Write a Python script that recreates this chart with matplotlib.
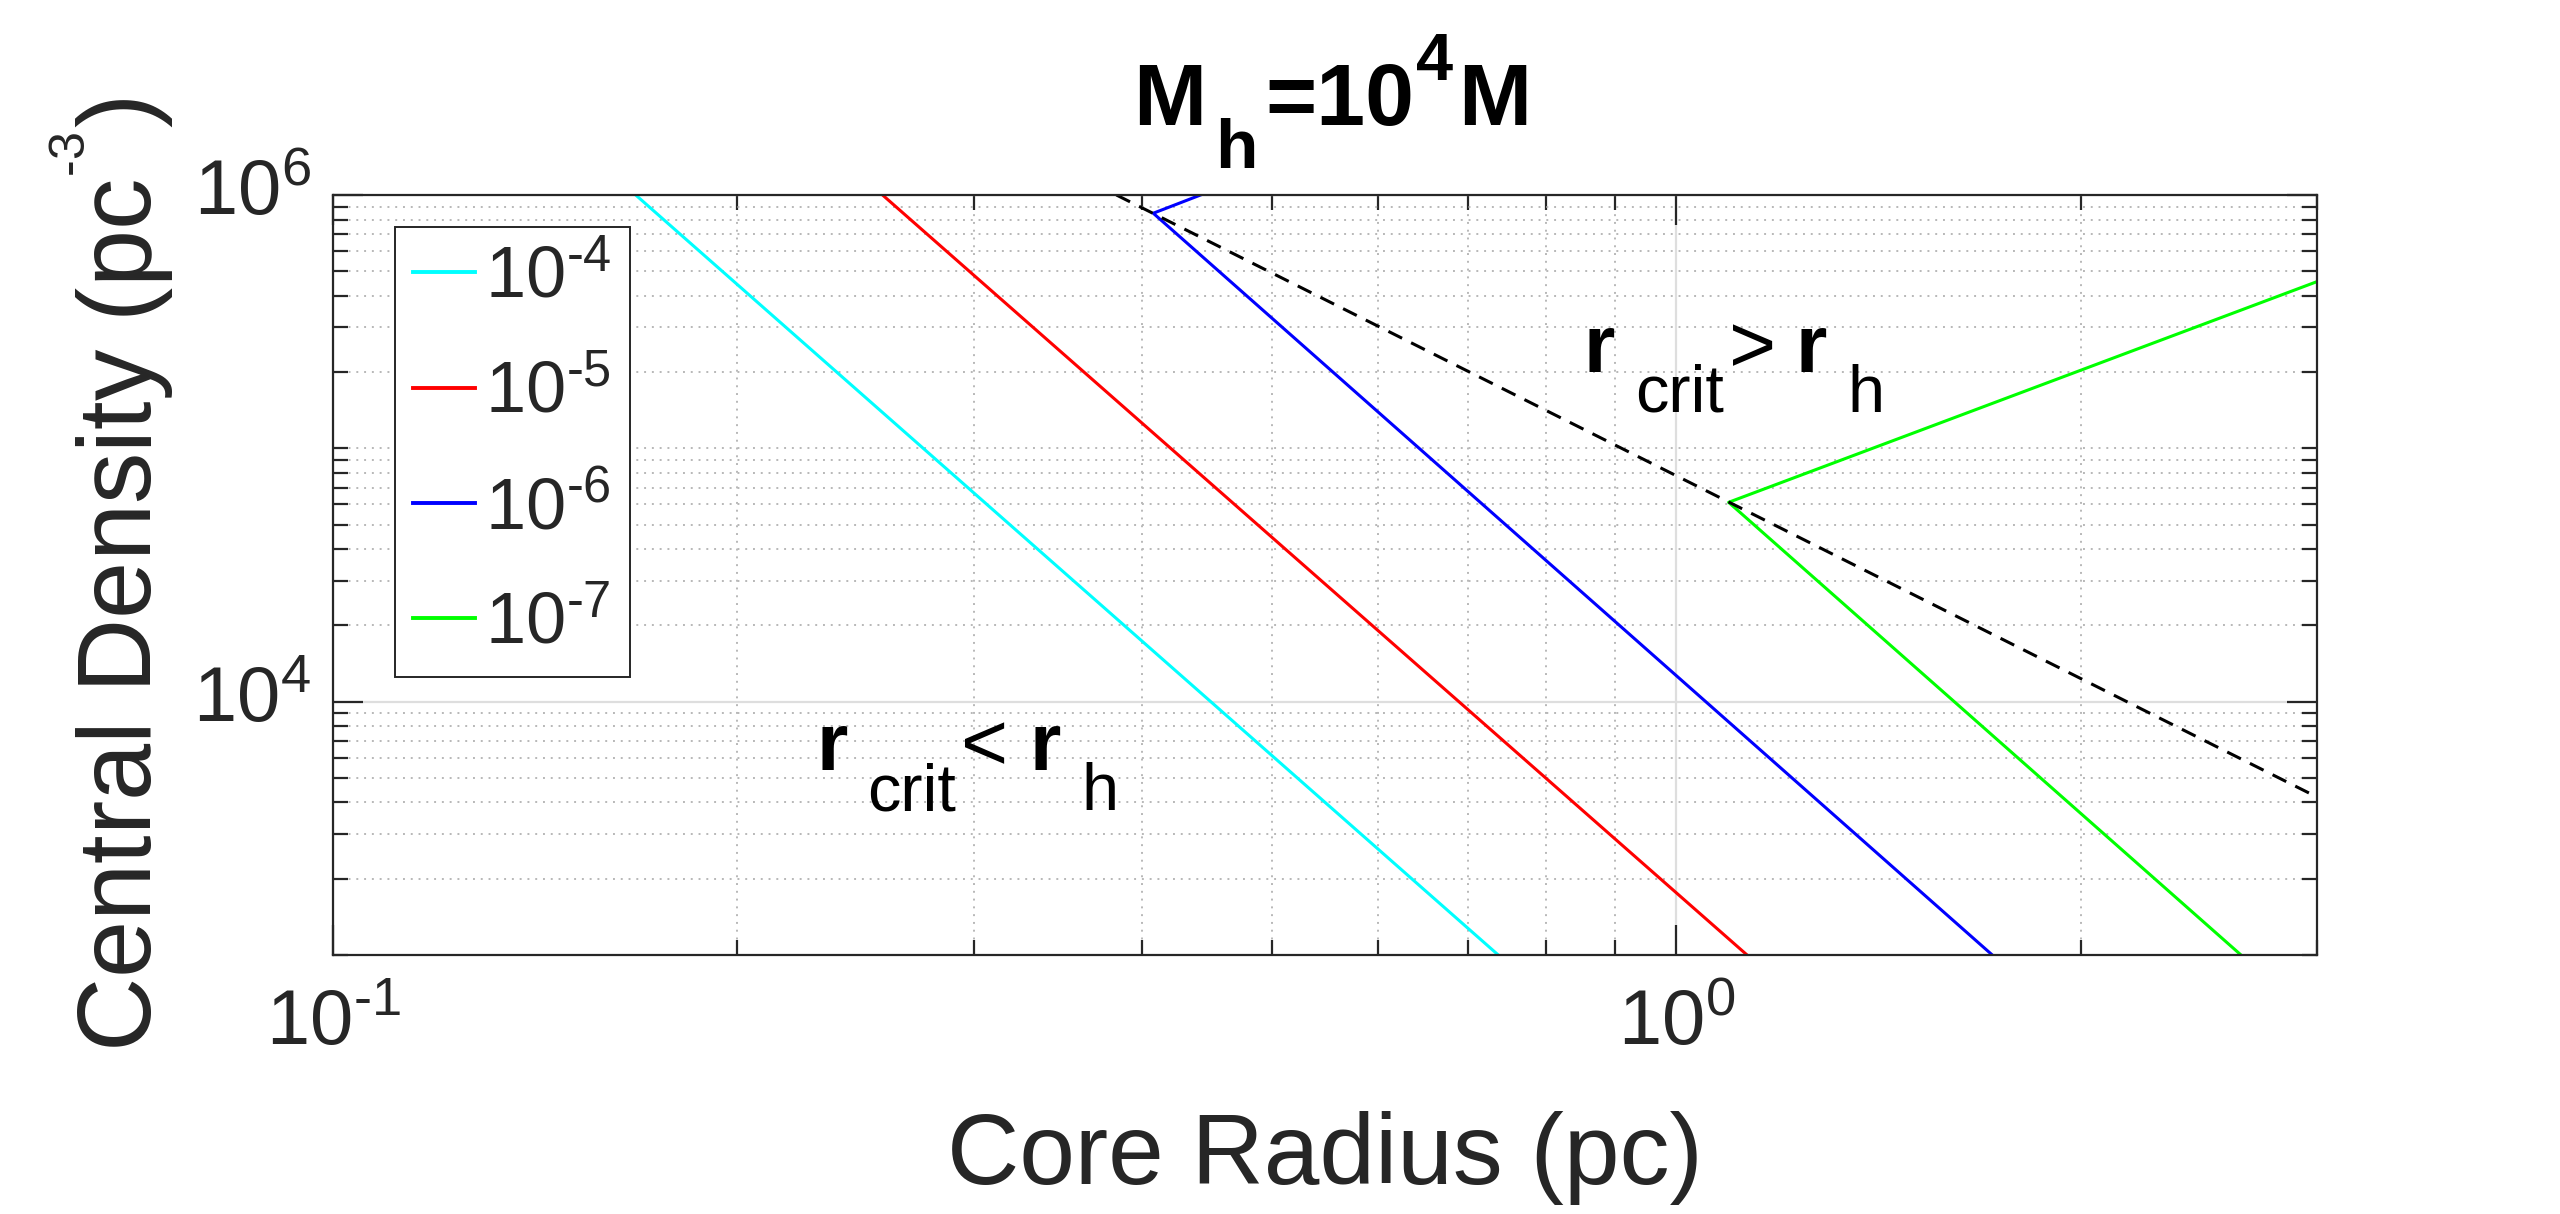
import numpy as np
import matplotlib
matplotlib.use("Agg")
import matplotlib.pyplot as plt
from matplotlib.ticker import FixedLocator, LogLocator, FuncFormatter, NullFormatter

plt.rcParams['font.family'] = ['Liberation Sans', 'DejaVu Sans']
plt.rcParams['mathtext.fontset'] = 'custom'
plt.rcParams['mathtext.rm'] = 'Liberation Sans'
plt.rcParams['mathtext.it'] = 'Liberation Sans:italic'
plt.rcParams['mathtext.bf'] = 'Liberation Sans:bold'
plt.rcParams['mathtext.default'] = 'regular'

# accretion-rate curves (core radius in pc, central density in pc^-3)
colors = ['#00ffff', '#ff0000', '#0000ff', '#00ff00']
rates = [1e-4, 1e-5, 1e-6, 1e-7]
r_cyan = [0.168, 0.737]
rho_cyan = [1e6, 1e3]
r_red = [0.2565, 1.129]
rho_red = [1e6, 1e3]
r_blue = [0.4425, 0.408, 1.719]
rho_blue = [1e6, 8.47e5, 1e3]
r_green = [3.0, 1.094, 2.633]
rho_green = [4.55e5, 6.12e4, 1e3]
# r_crit = r_h boundary
r_crit = [0.383, 3.0]
rho_crit = [1e6, 4.2e3]

xmajor = [0.1, 1.0]
ymajor = [1e4, 1e6]

DARK = '#262626'


def pow10(v, pos=None):
    e = int(round(np.log10(v)))
    s = str(e) if e >= 0 else r'\text{-}' + str(-e)
    return r'$10^{%s}$' % s


def chain_text(ax, x, y, pieces, transform):
    # pieces: (text, size, weight, gap in pt, baseline shift in pt)
    prev = None
    prev_shift = 0.0
    prev_d = 0.0
    for s, size, weight, gap, shift in pieces:
        d = 0.212 * size
        if prev is None:
            t = ax.text(x, y, s, transform=transform, fontsize=size,
                        fontweight=weight, ha='left', va='baseline',
                        color='black', clip_on=False)
        else:
            dy = (shift - prev_shift) - d + prev_d
            t = ax.annotate(s, xy=(1, 0), xycoords=prev, xytext=(gap, dy),
                            textcoords='offset points', fontsize=size,
                            fontweight=weight, ha='left', va='bottom',
                            color='black')
        prev, prev_shift, prev_d = t, shift, d
    return prev


fig = plt.figure(figsize=(12.8, 6.07), dpi=200)
ax = fig.add_axes([0.1301, 0.2134, 0.775, 0.626])

lw = 1.1
ax.plot(r_cyan, rho_cyan, color=colors[0], lw=lw, label=pow10(rates[0]))
ax.plot(r_red, rho_red, color=colors[1], lw=lw, label=pow10(rates[1]))
ax.plot(r_blue, rho_blue, color=colors[2], lw=lw, label=pow10(rates[2]))
ax.plot(r_green, rho_green, color=colors[3], lw=lw, label=pow10(rates[3]))
ax.plot(r_crit, rho_crit, color='black', lw=lw, linestyle=(0, (5, 3.3)))

ax.set_xscale('log')
ax.set_yscale('log')
ax.set_xlim(0.1, 3.0)
ax.set_ylim(1e3, 1e6)

ax.xaxis.set_major_locator(FixedLocator(xmajor))
ax.yaxis.set_major_locator(FixedLocator(ymajor))
ax.xaxis.set_minor_locator(LogLocator(base=10, subs=np.arange(2, 10), numticks=20))
ax.yaxis.set_minor_locator(LogLocator(base=10, subs=np.arange(1, 10), numticks=20))
ax.xaxis.set_major_formatter(FuncFormatter(pow10))
ax.yaxis.set_major_formatter(FuncFormatter(pow10))
ax.xaxis.set_minor_formatter(NullFormatter())
ax.yaxis.set_minor_formatter(NullFormatter())

ax.tick_params(which='both', direction='in', top=True, right=True,
               color=DARK, width=0.8, labelsize=28, labelcolor=DARK)
ax.tick_params(which='major', length=10.8)
ax.tick_params(which='minor', length=5.4)
ax.tick_params(axis='x', which='major', pad=12)
ax.tick_params(axis='y', which='major', pad=8)
for lab in ax.get_yticklabels():
    lab.set_verticalalignment('center')

for sp in ax.spines.values():
    sp.set_color(DARK)
    sp.set_linewidth(0.8)

ax.grid(which='major', color='#dedede', lw=0.8, linestyle='-')
ax.grid(which='minor', color='#b8b8b8', lw=0.7, linestyle=(0, (1, 3)))
ax.set_axisbelow(True)

ax.set_xlabel('Core Radius (pc)', fontsize=36, color=DARK, labelpad=18)
ax.set_ylabel(r'Central Density (pc$^{{}^{\text{-}3}}$)', fontsize=37,
              color=DARK, labelpad=6)

leg = ax.legend(loc='upper left', bbox_to_anchor=(0.03125, 0.958),
                borderaxespad=0, fontsize=26, handlelength=0.85,
                handletextpad=0.15, labelspacing=0.66, borderpad=0.25,
                fancybox=False, framealpha=1, edgecolor=DARK)
leg.get_frame().set_linewidth(0.7)
for txt in leg.get_texts():
    txt.set_color(DARK)
for h in leg.get_lines():
    h.set_linewidth(1.4)

# title
chain_text(ax, 0.4427, 0.897, [
    ('M', 31.6, 'bold', 0, 0),
    ('h', 25, 'bold', 3.0, -15.5),
    ('=10', 31.6, 'bold', 3.0, 0),
    ('4', 24, 'bold', 0.6, 16.2),
    ('M', 31.6, 'bold', 1.8, 0),
], fig.transFigure)

# region labels
chain_text(ax, 0.6302, 0.7675, [
    ('r', 29, 'bold', 0, 0),
    ('crit', 24, 'normal', 7.4, -14.4),
    ('>', 29, 'normal', 1.8, 0),
    ('r', 29, 'bold', 7.0, 0),
    ('h', 24, 'normal', 7.4, -14.4),
], ax.transAxes)
chain_text(ax, 0.2435, 0.2434, [
    ('r', 29, 'bold', 0, 0),
    ('crit', 24, 'normal', 7.0, -14.4),
    ('<', 29, 'normal', 2.0, 0),
    ('r', 29, 'bold', 7.6, 0),
    ('h', 24, 'normal', 7.4, -14.4),
], ax.transAxes)

fig.savefig('out.png', dpi=200, facecolor='white')
